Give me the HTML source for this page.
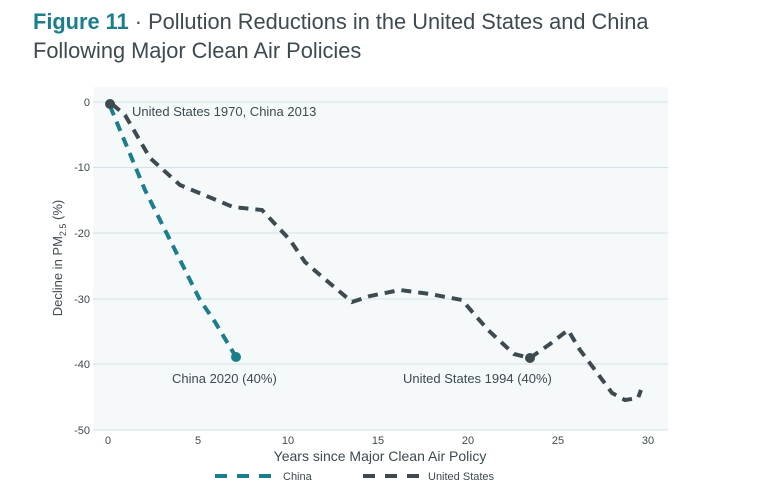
<!DOCTYPE html>
<html><head><meta charset="utf-8"><style>
body{margin:0;background:#fff;width:759px;height:485px;overflow:hidden;font-family:"Liberation Sans",sans-serif}
.t{position:absolute;left:33px;top:7px;font-size:21.8px;line-height:29px;color:#3d4a50}
.t b{color:#1b7e8b}
</style></head><body>
<div class="t"><b>Figure 11</b> · Pollution Reductions in the United States and China<br>Following Major Clean Air Policies</div>
<svg width="759" height="485" style="position:absolute;left:0;top:0" font-family="Liberation Sans, sans-serif">
<rect x="93" y="87" width="575" height="343" fill="#f6f9fa"/>
<g stroke="#d3e3e8" stroke-width="1">
<line x1="93" x2="668" y1="102" y2="102"/><line x1="93" x2="668" y1="167.5" y2="167.5"/>
<line x1="93" x2="668" y1="233" y2="233"/><line x1="93" x2="668" y1="299" y2="299"/>
<line x1="93" x2="668" y1="364" y2="364"/><line x1="93" x2="668" y1="430" y2="430"/>
</g>
<g font-size="11" fill="#3d4a50" text-anchor="end">
<text x="90" y="106">0</text><text x="90" y="171">-10</text><text x="90" y="237">-20</text>
<text x="90" y="303">-30</text><text x="90" y="368">-40</text><text x="90" y="434">-50</text>
</g>
<g font-size="11" fill="#3d4a50" text-anchor="middle">
<text x="108" y="444">0</text><text x="198" y="444">5</text><text x="288" y="444">10</text>
<text x="378" y="444">15</text><text x="468" y="444">20</text><text x="558" y="444">25</text><text x="648" y="444">30</text>
</g>
<text x="380" y="461" font-size="14" fill="#3d4a50" text-anchor="middle">Years since Major Clean Air Policy</text>
<text transform="translate(62,258) rotate(-90)" font-size="13" fill="#3d4a50" text-anchor="middle">Decline in PM<tspan font-size="9" dy="4">2.5</tspan><tspan dy="-4"> (%)</tspan></text>
<polyline fill="none" stroke="#1b7e8b" stroke-width="4" stroke-dasharray="10,7" points="110,106 145,190 175,250 200,300 215,322 236,357"/>
<polyline fill="none" stroke="#3d4a50" stroke-width="4" stroke-dasharray="10,7" points="112,104 125,115 150,158 180,185 233,207 262,210 290,240 305,262 320,275 352,302 370,296 400,290 430,294 462,300 488,330 514,354 530,358 550,344 568,330 580,350 595,370 612,393 625,400 638,398 641,390"/>
<circle cx="110" cy="104" r="5" fill="#3d4a50"/>
<circle cx="236" cy="357" r="5" fill="#1b7e8b"/>
<circle cx="530" cy="358" r="5" fill="#3d4a50"/>
<g font-size="13" fill="#3d4a50">
<text x="132" y="116">United States 1970, China 2013</text>
<text x="172" y="383">China 2020 (40%)</text>
<text x="403" y="383">United States 1994 (40%)</text>
</g>
<line x1="215" x2="271" y1="476" y2="476" stroke="#1b7e8b" stroke-width="4" stroke-dasharray="12,10"/>
<text x="283" y="480" font-size="11" fill="#3d4a50">China</text>
<line x1="363" x2="419" y1="476" y2="476" stroke="#3d4a50" stroke-width="4" stroke-dasharray="12,10"/>
<text x="428" y="480" font-size="11" fill="#3d4a50">United States</text>
</svg>
</body></html>
